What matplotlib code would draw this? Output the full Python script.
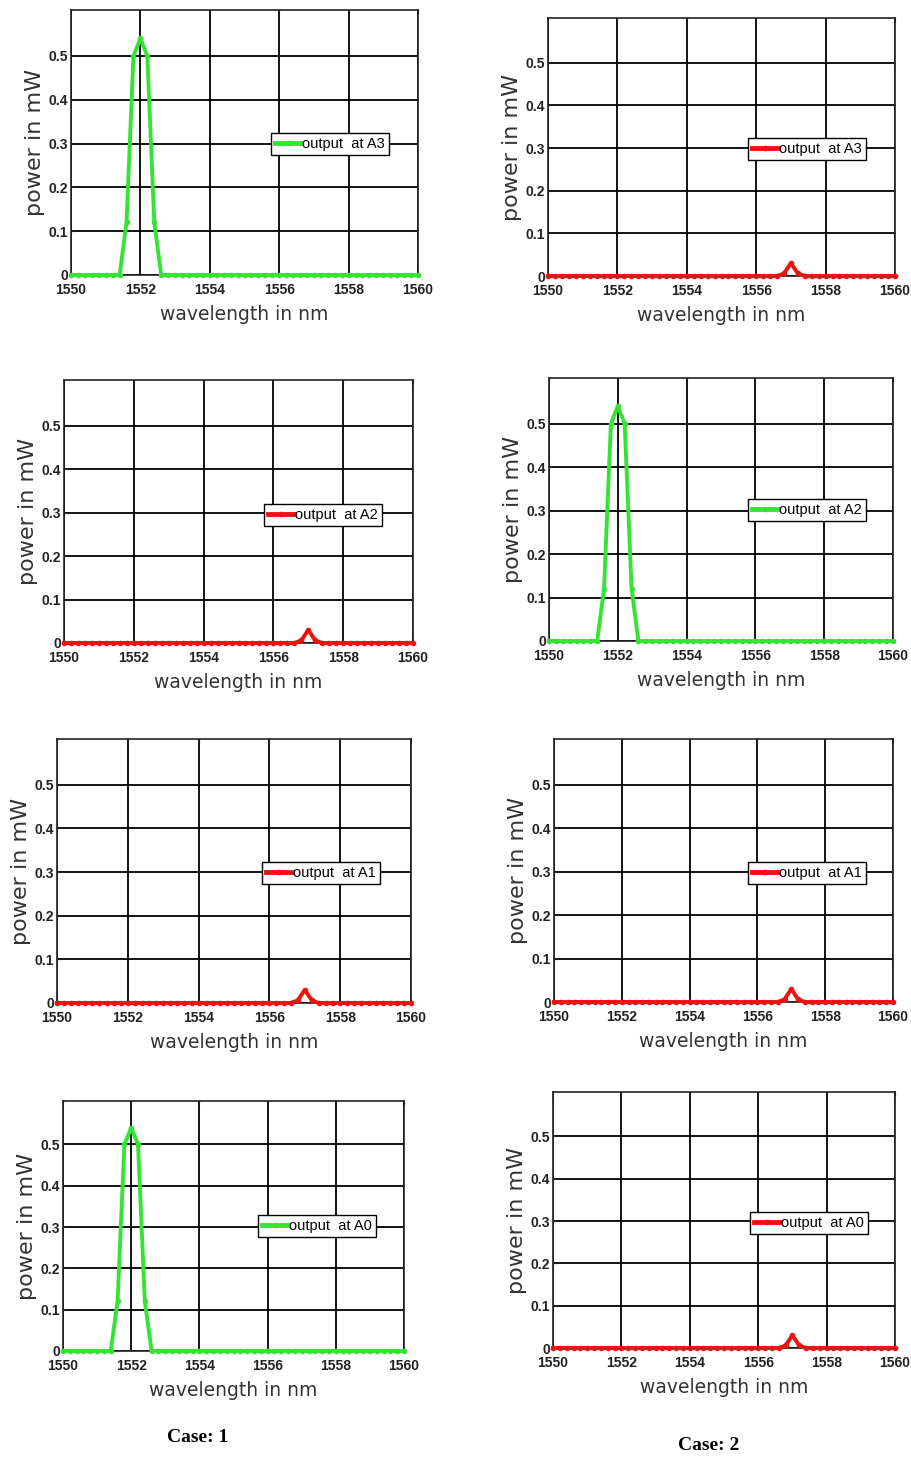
import numpy as np
import matplotlib
matplotlib.use("Agg")
import matplotlib.pyplot as plt

# wavelength grid of the simulation (nm)
wavelength = np.round(np.arange(1550, 1560.001, 0.2), 1)

# non-zero samples, everything else is 0
peak_1552 = {1551.6: 0.12, 1551.8: 0.50, 1552.0: 0.54, 1552.2: 0.50, 1552.4: 0.12}
leak_1557 = {1556.8: 0.006, 1557.0: 0.03, 1557.2: 0.006}

def spectrum(points):
    return np.array([points.get(w, 0.0) for w in wavelength])

green_signal = spectrum(peak_1552)
red_signal = spectrum(leak_1557)

outputs = ["A3", "A2", "A1", "A0"]
case1 = ["high", "low", "low", "high"]
case2 = ["low", "high", "low", "low"]

x_ticks = [1550, 1552, 1554, 1556, 1558, 1560]
y_ticks = [0, 0.1, 0.2, 0.3, 0.4, 0.5]

W, H = 912, 1458
# axes boxes in pixels: left, right, top, bottom
boxes = [
    [(71, 418, 10, 275), (548, 895, 18, 276)],
    [(64, 413, 380, 643), (549, 893, 378, 641)],
    [(57, 411, 739, 1003), (554, 893, 739, 1002)],
    [(63, 404, 1101, 1351), (553, 895, 1092, 1348)],
]
legend_centers = [
    [(330, 144), (807, 149)],
    [(323, 515), (807, 510)],
    [(321, 873), (807, 873)],
    [(317, 1226), (809, 1223)],
]

narrow = ["Liberation Sans Narrow", "Liberation Sans", "DejaVu Sans"]

fig = plt.figure(figsize=(W / 100, H / 100), dpi=100)

for row in range(4):
    for col, case in enumerate([case1, case2]):
        l, r, t, b = boxes[row][col]
        ax = fig.add_axes([l / W, 1 - b / H, (r - l) / W, (b - t) / H])
        if case[row] == "high":
            y, c = green_signal, "#35e335"
        else:
            y, c = red_signal, "#ee1111"
        ax.plot(wavelength, y, color=c, lw=2.8, marker="o", ms=3,
                clip_on=False, zorder=3, label="output  at " + outputs[row])
        ax.set_xlim(1550, 1560)
        ax.set_ylim(0, 0.605)
        ax.set_xticks(x_ticks)
        ax.set_yticks(y_ticks)
        ax.set_yticklabels(["0", "0.1", "0.2", "0.3", "0.4", "0.5"])
        ax.grid(True, color="black", lw=1.3)
        ax.set_axisbelow(True)
        ax.tick_params(direction="in", length=3, top=True, right=True, pad=2,
                       colors="#222222")
        ax.tick_params(axis="x", pad=6)
        for lab in ax.get_xticklabels() + ax.get_yticklabels():
            lab.set_family(narrow)
            lab.set_fontsize(10)
            lab.set_fontweight("bold")
        for s in ax.spines.values():
            s.set_color("#222222")
            s.set_linewidth(1.2)
        ax.set_xlabel("wavelength in nm", fontsize=13.5, color="#333333")
        ax.set_ylabel("power in mW", fontsize=16, color="#333333")
        ax.xaxis.set_label_coords(0.5, -30 / (b - t))
        ax.yaxis.set_label_coords(-26 / (r - l), 0.5)
        cx, cy = legend_centers[row][col]
        leg = ax.legend(loc="center", bbox_to_anchor=(cx / W, 1 - cy / H),
                        bbox_transform=fig.transFigure, fancybox=False,
                        edgecolor="black", framealpha=1, borderpad=0.25,
                        handlelength=1.8, handletextpad=0.1,
                        prop={"family": narrow, "size": 10.5})
        leg.get_frame().set_linewidth(1.0)
        leg.get_lines()[0].set_linewidth(3.5)

fig.text(198 / W, 1 - 1438 / H, "Case: 1", ha="center", va="center",
         family=["Liberation Serif", "DejaVu Serif"], fontweight="bold", fontsize=14)
fig.text(709 / W, 1 - 1445 / H, "Case: 2", ha="center", va="center",
         family=["Liberation Serif", "DejaVu Serif"], fontweight="bold", fontsize=14)

fig.savefig("out.png", dpi=100)
